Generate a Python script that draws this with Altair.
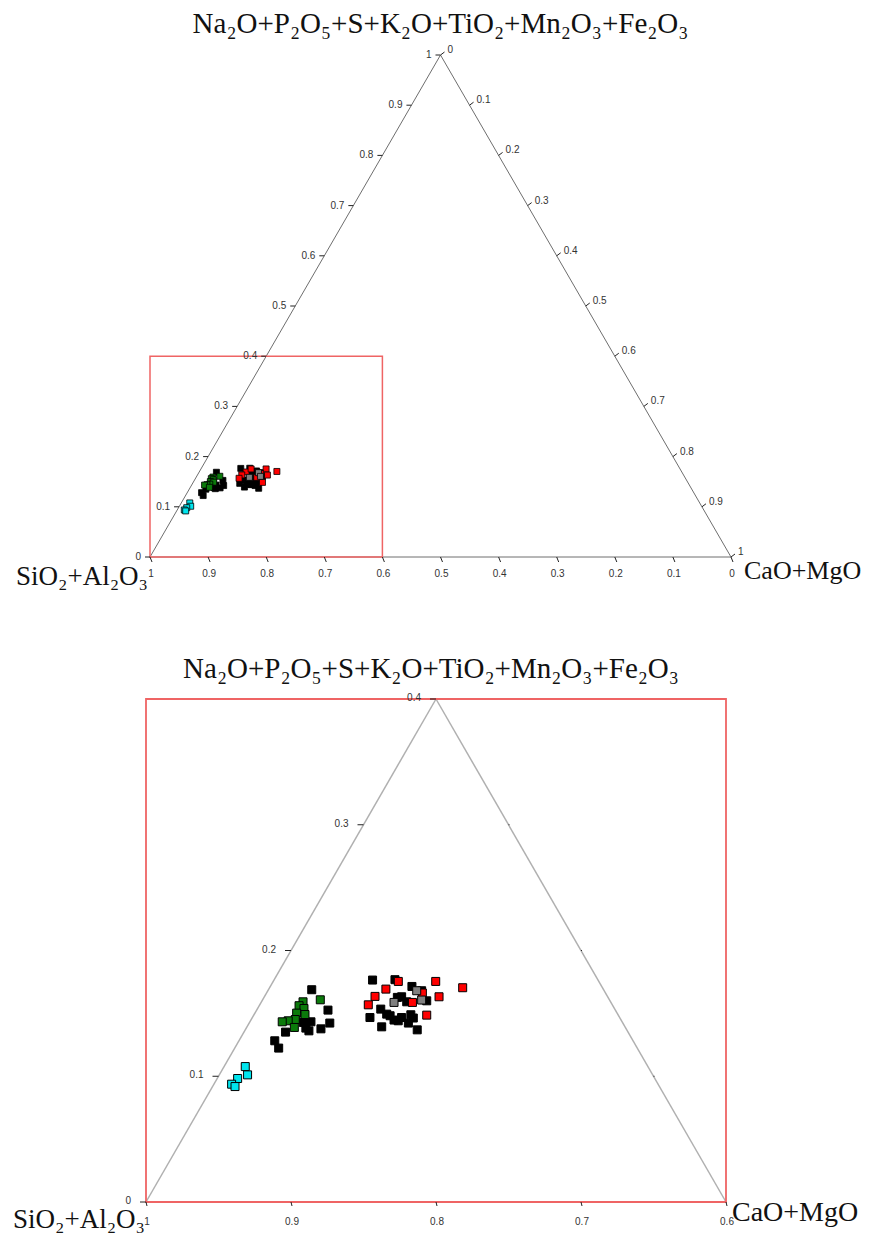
import math
import altair as alt
import pandas as pd

H = math.sqrt(3) / 2

# ---- texts ----
TITLE_TOP = "Na₂O+P₂O₅+S+K₂O+TiO₂+Mn₂O₃+Fe₂O₃"
TITLE_LEFT = "SiO₂+Al₂O₃"
TITLE_RIGHT = "CaO+MgO"

# ---- groups ----
groups = ["black", "green", "red", "grey", "cyan"]
group_fill = ["#000000", "#0b7a0b", "#ff0000", "#808080", "#00e5ee"]

# compositions: CaO+MgO fraction and (Na2O+...+Fe2O3) fraction; SiO2+Al2O3 is the rest
black_cao_mgo = [0.0299, 0.0492, 0.0556, 0.0518, 0.0421, 0.0443, 0.0371, 0.0287, 0.0247, 0.0303, 0.0411,
                 0.0680, 0.0833, 0.0977, 0.1061, 0.0947, 0.1002, 0.1136, 0.0811, 0.0852, 0.0943, 0.0987,
                 0.1029, 0.1082, 0.1112, 0.1098, 0.1019, 0.0929, 0.1186, 0.0913, 0.0920]
black_oxides = [0.1688, 0.1526, 0.1423, 0.1377, 0.1433, 0.1361, 0.1428, 0.1351, 0.1282, 0.1224, 0.1383,
                0.1765, 0.1768, 0.1714, 0.1680, 0.1632, 0.1592, 0.1600, 0.1467, 0.1534, 0.1481, 0.1447,
                0.1467, 0.1489, 0.1463, 0.1423, 0.1441, 0.1393, 0.1369, 0.1494, 0.1627]
green_cao_mgo = [0.0398, 0.0287, 0.0275, 0.0320, 0.0288, 0.0351, 0.0304, 0.0260, 0.0223, 0.0329]
green_oxides = [0.1608, 0.1592, 0.1561, 0.1539, 0.1502, 0.1491, 0.1451, 0.1441, 0.1433, 0.1388]
red_cao_mgo = [0.0808, 0.0863, 0.1121, 0.1332, 0.0762, 0.0749, 0.1044, 0.1205, 0.1193, 0.1075]
red_oxides = [0.1693, 0.1754, 0.1754, 0.1704, 0.1635, 0.1568, 0.1587, 0.1632, 0.1486, 0.1662]
grey_cao_mgo = [0.1027, 0.0917, 0.1098]
grey_oxides = [0.1680, 0.1587, 0.1606]
cyan_cao_mgo = [0.0146, 0.0195, 0.0141, 0.0122, 0.0155]
cyan_oxides = [0.1077, 0.1011, 0.0982, 0.0937, 0.0918]

# ---- ticks ----
full_ticks = [1.0, 0.9, 0.8, 0.7, 0.6, 0.5, 0.4, 0.3, 0.2, 0.1, 0.0]
full_tick_labels = ["1", "0.9", "0.8", "0.7", "0.6", "0.5", "0.4", "0.3", "0.2", "0.1", "0"]
zoom_bottom_ticks = [1.0, 0.9, 0.8, 0.7, 0.6]
zoom_bottom_labels = ["1", "0.9", "0.8", "0.7", "0.6"]
zoom_left_ticks = [0.0, 0.1, 0.2, 0.3, 0.4]
zoom_left_labels = ["0", "0.1", "0.2", "0.3", "0.4"]
zoom_right_ticks = [0.1, 0.2, 0.3]

zoom_limit = 0.4

# ---- tables ----
series = [
    ("black", black_cao_mgo, black_oxides),
    ("green", green_cao_mgo, green_oxides),
    ("red", red_cao_mgo, red_oxides),
    ("grey", grey_cao_mgo, grey_oxides),
    ("cyan", cyan_cao_mgo, cyan_oxides),
]
rows = []
for g, bs, cs in series:
    for b, c in zip(bs, cs):
        rows.append({"group": g, "b": b, "c": c})
points = pd.DataFrame(rows)

PROJ = dict(x="datum.b + datum.c / 2", y=f"datum.c * {H}")
PROJ2 = dict(x2="datum.b2 + datum.c2 / 2", y2=f"datum.c2 * {H}")


def edges_df(verts):
    r = []
    for i in range(3):
        b, c = verts[i]
        b2, c2 = verts[(i + 1) % 3]
        r.append({"b": b, "c": c, "b2": b2, "c2": c2})
    return pd.DataFrame(r)


def panel(cfg):
    xs = alt.Scale(domain=cfg["xdom"], nice=False, zero=False)
    ys = alt.Scale(domain=cfg["ydom"], nice=False, zero=False)

    def X(f="x"):
        return alt.X(f"{f}:Q", scale=xs, axis=None)

    def Y(f="y"):
        return alt.Y(f"{f}:Q", scale=ys, axis=None)

    layers = []
    # triangle edges
    edges = alt.Chart(edges_df(cfg["verts"])).transform_calculate(**PROJ, **PROJ2).mark_rule(
        color=cfg["edge_color"], strokeWidth=cfg["edge_width"]
    ).encode(x=X(), y=Y(), x2="x2:Q", y2="y2:Q")
    layers.append(edges)

    # zoom frame
    frame_df = pd.DataFrame({"b": [zoom_limit], "c": [zoom_limit]})
    frame = alt.Chart(frame_df).transform_calculate(
        x0="0", y0="0", x1="datum.b", y1=f"datum.c * {H}"
    ).mark_rect(fillOpacity=0, stroke="#ef6464", strokeWidth=cfg["frame_width"]).encode(
        x=X("x0"), x2="x1:Q", y=Y("y0"), y2="y1:Q"
    )
    layers.append(frame)

    # ticks and labels
    for side in cfg["ticks"]:
        df = side["df"]
        base = alt.Chart(df).transform_calculate(**PROJ)
        tick = base.mark_rule(
            color="#222222", strokeWidth=1,
            x2Offset=side["tx"], y2Offset=side["ty"],
        ).encode(x=X(), y=Y(), x2="x:Q", y2="y:Q")
        layers.append(tick)
        if "label" in df.columns:
            lab = base.mark_text(
                font="Liberation Sans", fontSize=10, color="#333333",
                align=side["align"], baseline="middle", dx=side["dx"], dy=side["dy"],
            ).encode(x=X(), y=Y(), text="label:N")
            layers.append(lab)

    # data points
    pts = alt.Chart(points).transform_calculate(**PROJ).mark_point(
        shape="square", filled=True, size=cfg["size"], stroke="#000000",
        strokeWidth=cfg["pstroke"], opacity=1,
    ).encode(
        x=X(), y=Y(),
        fill=alt.Fill("group:N", scale=alt.Scale(domain=groups, range=group_fill), legend=None),
    )
    layers.append(pts)

    # axis titles at the vertices
    for t in cfg["titles"]:
        tdf = pd.DataFrame({"b": [t["b"]], "c": [t["c"]], "label": [t["text"]]})
        layers.append(
            alt.Chart(tdf).transform_calculate(**PROJ).mark_text(
                font="Liberation Serif", fontSize=t["size"], color="#111111",
                align=t["align"], baseline="middle", dx=t["dx"], dy=t["dy"],
            ).encode(x=X(), y=Y(), text="label:N")
        )

    return alt.layer(*layers).properties(width=cfg["width"], height=cfg["height"])


# full diagram ticks
full_bottom = pd.DataFrame({"b": [1 - v for v in full_ticks], "c": [0.0] * 11, "label": full_tick_labels})
full_left = pd.DataFrame({"b": [0.0] * 11, "c": [1 - v for v in full_ticks], "label": full_tick_labels[::-1]})
full_right = pd.DataFrame({"b": [1 - v for v in full_ticks], "c": full_ticks, "label": full_tick_labels[::-1]})

top_cfg = {
    "width": 585, "height": 502,
    "xdom": [-4 / 581, 1.0], "ydom": [0.0, H],
    "verts": [(0.0, 0.0), (1.0, 0.0), (0.0, 1.0)],
    "edge_color": "#6e6e6e", "edge_width": 1,
    "frame_width": 1.5,
    "size": 36, "pstroke": 0.8,
    "ticks": [
        {"df": full_bottom, "tx": 2, "ty": 5, "align": "center", "dx": 1, "dy": 17},
        {"df": full_left, "tx": -5, "ty": 0, "align": "right", "dx": -9, "dy": 0},
        {"df": full_right, "tx": 4, "ty": -3, "align": "left", "dx": 7, "dy": -5},
    ],
    "titles": [
        {"b": 0.0, "c": 1.0, "text": TITLE_TOP, "align": "center", "dx": 0, "dy": -31, "size": 29},
        {"b": 0.0, "c": 0.0, "text": TITLE_LEFT, "align": "right", "dx": -2, "dy": 20, "size": 27},
        {"b": 1.0, "c": 0.0, "text": TITLE_RIGHT, "align": "left", "dx": 13, "dy": 14, "size": 26},
    ],
}

zoom_bottom = pd.DataFrame({"b": [1 - v for v in zoom_bottom_ticks], "c": [0.0] * 5, "label": zoom_bottom_labels})
zoom_left = pd.DataFrame({"b": [0.0] * 5, "c": zoom_left_ticks, "label": zoom_left_labels})
zoom_right = pd.DataFrame({"b": [zoom_limit - v for v in zoom_right_ticks], "c": zoom_right_ticks})

bottom_cfg = {
    "width": 580, "height": 503,
    "xdom": [0.0, zoom_limit], "ydom": [0.0, zoom_limit * H],
    "verts": [(0.0, 0.0), (zoom_limit, 0.0), (0.0, zoom_limit)],
    "edge_color": "#b0b0b0", "edge_width": 1.5,
    "frame_width": 1.8,
    "size": 64, "pstroke": 1,
    "ticks": [
        {"df": zoom_bottom, "tx": 1, "ty": 4, "align": "center", "dx": 1, "dy": 20},
        {"df": zoom_left, "tx": -6, "ty": 0, "align": "right", "dx": -15, "dy": -1},
        {"df": zoom_right, "tx": 1, "ty": 0, "align": "left", "dx": 0, "dy": 0},
    ],
    "titles": [
        {"b": 0.0, "c": zoom_limit, "text": TITLE_TOP, "align": "center", "dx": -5, "dy": -30, "size": 29},
        {"b": 0.0, "c": 0.0, "text": TITLE_LEFT, "align": "right", "dx": -1, "dy": 18, "size": 27},
        {"b": zoom_limit, "c": 0.0, "text": TITLE_RIGHT, "align": "left", "dx": 6, "dy": 11, "size": 28},
    ],
}

chart = alt.vconcat(
    panel(top_cfg), panel(bottom_cfg), spacing=142, bounds="flush"
).properties(
    padding={"left": 5, "top": 2, "right": 0, "bottom": 0}
).configure_view(stroke=None)

chart.save("out.html", embed_options={"renderer": "svg", "actions": False})
